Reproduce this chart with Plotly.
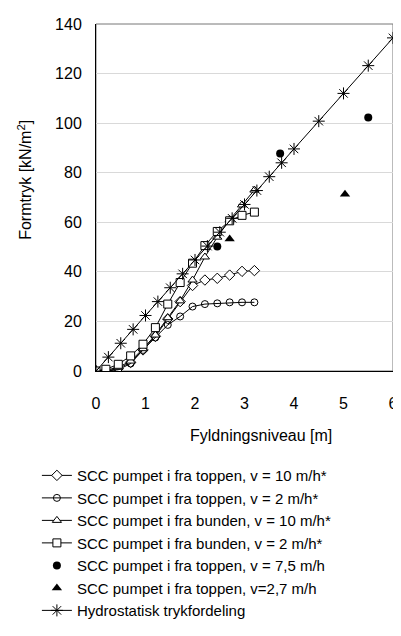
import plotly.graph_objects as go

# Fill level [m] (grid for the four measured series)
x_series = [0, 0.2, 0.45, 0.7, 0.95, 1.2, 1.45, 1.7, 1.95, 2.2, 2.45, 2.7, 2.95, 3.2]

# SCC pumpet i fra toppen, v = 10 m/h*
y_top10 = [0, 0, 1, 3.5, 8.5, 14, 21, 28, 34.5, 36.7, 37.4, 38.7, 40.2, 40.5]
# SCC pumpet i fra toppen, v = 2 m/h*
y_top2 = [0, 0, 0.5, 3, 8.5, 13.5, 18.6, 22, 26, 27, 27.3, 27.7, 27.7, 27.7]
# SCC pumpet i fra bunden, v = 10 m/h*
y_bot10 = [0, 0.3, 1.5, 4, 9, 14.5, 21.5, 28.3, 36.7, 46, 54, 61, 67, 73]
# SCC pumpet i fra bunden, v = 2 m/h*
y_bot2 = [0, 0.7, 2.7, 6.1, 10.8, 17.5, 27, 35.7, 43.5, 50.6, 56.3, 60.6, 62.8, 64.1]

# SCC pumpet i fra toppen, v = 7,5 m/h
x_top75 = [2.45, 3.72, 5.5]
y_top75 = [50.2, 87.8, 102.3]
# SCC pumpet i fra toppen, v=2,7 m/h
x_top27 = [2.7, 5.03]
y_top27 = [53.3, 71.3]

# Hydrostatisk trykfordeling
x_hyd = [0, 0.25, 0.5, 0.75, 1.0, 1.25, 1.5, 1.75, 2.0, 2.25, 2.5, 2.75, 3.0, 3.25,
         3.5, 3.75, 4.0, 4.5, 5.0, 5.5, 6.0]
y_hyd = [0, 5.6, 11.2, 16.8, 22.4, 28.0, 33.6, 39.2, 44.8, 50.4, 56.0, 61.6, 67.2,
         72.8, 78.4, 84.0, 89.6, 100.8, 112.0, 123.2, 134.4]

names = [
    "SCC pumpet i fra toppen, v = 10 m/h*",
    "SCC pumpet i fra toppen, v = 2 m/h*",
    "SCC pumpet i fra bunden, v = 10 m/h*",
    "SCC pumpet i fra bunden, v = 2 m/h*",
    "SCC pumpet i fra toppen, v = 7,5 m/h",
    "SCC pumpet i fra toppen, v=2,7 m/h",
    "Hydrostatisk trykfordeling",
]

x_ticks = [0, 1, 2, 3, 4, 5, 6]
y_ticks = [0, 20, 40, 60, 80, 100, 120, 140]

FONT = "Arial, 'Liberation Sans', sans-serif"
fig = go.Figure()

def line_trace(x, y, name, symbol, size, fill="white"):
    fig.add_trace(go.Scatter(
        x=x, y=y, name=name, mode="lines+markers",
        line=dict(color="black", width=1),
        marker=dict(symbol=symbol, size=size, color=fill,
                    line=dict(color="black", width=1)),
    ))

line_trace(x_series, y_top10, names[0], "diamond", 8)
line_trace(x_series, y_top2, names[1], "circle-open", 7, fill="black")
line_trace(x_series, y_bot10, names[2], "triangle-up", 8)
line_trace(x_series, y_bot2, names[3], "square", 8)

fig.add_trace(go.Scatter(x=x_top75, y=y_top75, name=names[4], mode="markers",
                         marker=dict(symbol="circle", size=8, color="black")))
fig.add_trace(go.Scatter(x=x_top27, y=y_top27, name=names[5], mode="markers",
                         marker=dict(symbol="triangle-up", size=9, color="black")))

fig.add_trace(go.Scatter(
    x=x_hyd, y=y_hyd, name=names[6], mode="lines+markers",
    line=dict(color="black", width=1),
    marker=dict(symbol="asterisk-open", size=10, color="black",
                line=dict(color="black", width=1)),
))

# the page body has an 8 px margin, so the figure is sized/offset to compensate
fig.update_layout(
    width=393, height=628,
    margin=dict(l=88, r=8, t=16, b=265, autoexpand=False),
    paper_bgcolor="white", plot_bgcolor="white",
    font=dict(family=FONT, size=16, color="black"),
    showlegend=True,
    legend=dict(x=-0.199, xanchor="left", y=-0.254, yanchor="top",
                font=dict(size=15), bgcolor="rgba(0,0,0,0)",
                tracegroupgap=0, itemwidth=30),
    xaxis=dict(range=[0, 6], tickvals=x_ticks, showgrid=False, zeroline=False,
               showline=True, linecolor="black", linewidth=1, automargin=False,
               ticks="", ticklabelstandoff=18, tickfont=dict(size=16)),
    yaxis=dict(range=[0, 140], tickvals=y_ticks, showgrid=True,
               gridcolor="#d9d9d9", gridwidth=1, zeroline=False,
               showline=True, linecolor="black", linewidth=1, automargin=False,
               ticks="", ticklabelstandoff=10, tickfont=dict(size=16)),
    shapes=[dict(type="rect", xref="paper", yref="paper", x0=0, x1=1, y0=0, y1=1,
                 line=dict(color="#777777", width=1), layer="below")],
    annotations=[
        dict(text="Fyldningsniveau [m]", xref="paper", yref="paper",
             x=0.556, y=-0.185, xanchor="center", yanchor="middle",
             showarrow=False, font=dict(size=16)),
        dict(text="Formtryk [kN/m<sup>2</sup>]", xref="paper", yref="paper",
             x=-0.24, y=0.55, xanchor="center", yanchor="middle",
             textangle=-90, showarrow=False, font=dict(size=16)),
    ],
)

fig.write_html("out.html")
